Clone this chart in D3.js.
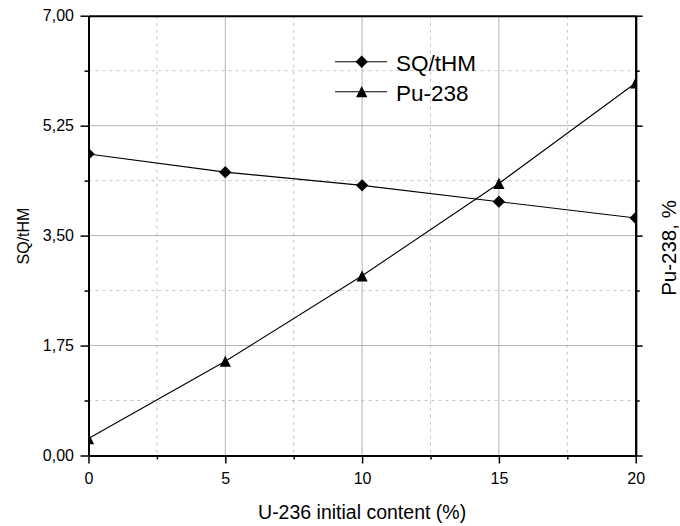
<!DOCTYPE html>
<html>
<head>
<meta charset="utf-8">
<script src="https://cdn.jsdelivr.net/npm/d3@7"></script>
<style>
  body { margin: 0; background: #fff; }
  svg { display: block; font-family: 'Liberation Sans', Arial, sans-serif; }
</style>
</head>
<body>
<main></main>
<script>
// data
const u236 = [0, 5, 10, 15, 20]
const sqPerTHM = [4.80, 4.51, 4.30, 4.04, 3.78]
const pu238 = [0.27, 1.50, 2.86, 4.33, 5.93]
const yMajorTicks = [0, 1.75, 3.5, 5.25, 7]
const yMinorTicks = [0.875, 2.625, 4.375, 6.125]
const xMajorTicks = [0, 5, 10, 15, 20]
const xMinorTicks = [2.5, 7.5, 12.5, 17.5]
const seriesNames = ['SQ/tHM', 'Pu-238']

const width = 680
const height = 526
const plot = { left: 88.5, right: 635.7, top: 15.7, bottom: 455.5 }

const commaFmt = d3.formatLocale({ decimal: ',', thousands: '.', grouping: [3], currency: ['', ''] }).format('.2f')

const x = d3.scaleLinear().domain([0, 20]).range([plot.left, plot.right])
const y = d3.scaleLinear().domain([0, 7]).range([plot.bottom, plot.top])
// right axis (Pu-238, %) shares the same scale, ticks only
const y2 = y.copy()

const svg = d3.select('main')
  .append('svg')
  .attr('width', width)
  .attr('height', height)
  .attr('viewBox', `0,0,${width},${height}`)

svg.append('defs').append('clipPath')
  .attr('id', 'plotClip')
  .append('rect')
  .attr('x', plot.left)
  .attr('y', plot.top)
  .attr('width', plot.right - plot.left)
  .attr('height', plot.bottom - plot.top)

// grid
const grid = svg.append('g').attr('class', 'grid')
grid.selectAll('.vmin')
  .data(xMinorTicks)
  .enter()
  .append('line')
  .attr('x1', d => x(d)).attr('x2', d => x(d))
  .attr('y1', plot.top).attr('y2', plot.bottom)
  .attr('stroke', '#c4c4c4')
  .attr('stroke-dasharray', '3,4')
grid.selectAll('.hmin')
  .data(yMinorTicks)
  .enter()
  .append('line')
  .attr('x1', plot.left).attr('x2', plot.right)
  .attr('y1', d => y(d)).attr('y2', d => y(d))
  .attr('stroke', '#c4c4c4')
  .attr('stroke-dasharray', '3,4')
grid.selectAll('.vmaj')
  .data(xMajorTicks.slice(1, -1))
  .enter()
  .append('line')
  .attr('x1', d => x(d)).attr('x2', d => x(d))
  .attr('y1', plot.top).attr('y2', plot.bottom)
  .attr('stroke', '#b4b4b4')
grid.selectAll('.hmaj')
  .data(yMajorTicks.slice(1, -1))
  .enter()
  .append('line')
  .attr('x1', plot.left).attr('x2', plot.right)
  .attr('y1', d => y(d)).attr('y2', d => y(d))
  .attr('stroke', '#b4b4b4')

// series
const diamond = s => `M0,${-s}L${s},0L0,${s}L${-s},0Z`
const triangle = s => `M0,${-s}L${s},${s}L${-s},${s}Z`

const series = [
  { name: seriesNames[0], values: sqPerTHM, scale: y, marker: diamond(6.2) },
  { name: seriesNames[1], values: pu238, scale: y2, marker: triangle(5.6) }
]

const dataLayer = svg.append('g').attr('clip-path', 'url(#plotClip)')
series.forEach(s => {
  const line = d3.line()
    .x((d, i) => x(u236[i]))
    .y(d => s.scale(d))
  dataLayer.append('path')
    .datum(s.values)
    .attr('fill', 'none')
    .attr('stroke', '#000')
    .attr('stroke-width', 1.1)
    .attr('d', line)
  dataLayer.selectAll(null)
    .data(s.values)
    .enter()
    .append('path')
    .attr('d', s.marker)
    .attr('fill', '#000')
    .attr('transform', (d, i) => `translate(${x(u236[i])},${s.scale(d)})`)
})

// axes
const styleAxis = g => {
  g.select('.domain').attr('stroke', '#000').attr('stroke-width', 2)
  g.selectAll('.tick line').attr('stroke', '#000').attr('stroke-width', 1.5)
  g.selectAll('.tick text')
    .attr('fill', '#000')
    .style('font-size', '16px')
}

svg.append('g')
  .attr('transform', `translate(0,${plot.bottom})`)
  .call(d3.axisBottom(x).tickValues(xMinorTicks).tickSize(4).tickSizeOuter(0).tickFormat(''))
  .call(styleAxis)
svg.append('g')
  .attr('transform', `translate(0,${plot.bottom})`)
  .call(d3.axisBottom(x).tickValues(xMajorTicks).tickSize(8).tickSizeOuter(0).tickPadding(9).tickFormat(d3.format('d')))
  .call(styleAxis)

svg.append('g')
  .attr('transform', `translate(${plot.left},0)`)
  .call(d3.axisLeft(y).tickValues(yMinorTicks).tickSize(4).tickSizeOuter(0).tickFormat(''))
  .call(styleAxis)
svg.append('g')
  .attr('transform', `translate(${plot.left},0)`)
  .call(d3.axisLeft(y).tickValues(yMajorTicks).tickSize(8).tickSizeOuter(0).tickPadding(6.5).tickFormat(commaFmt))
  .call(styleAxis)

svg.append('g')
  .attr('transform', `translate(${plot.right},0)`)
  .call(d3.axisRight(y2).tickValues(yMinorTicks).tickSize(4).tickSizeOuter(0).tickFormat(''))
  .call(styleAxis)
svg.append('g')
  .attr('transform', `translate(${plot.right},0)`)
  .call(d3.axisRight(y2).tickValues(yMajorTicks).tickSize(7).tickSizeOuter(0).tickFormat(''))
  .call(styleAxis)

svg.append('g')
  .attr('transform', `translate(0,${plot.top})`)
  .call(d3.axisTop(x).tickValues([]).tickSizeOuter(0))
  .call(styleAxis)

// axis titles
svg.append('text')
  .attr('transform', 'translate(29,236) rotate(-90)')
  .attr('text-anchor', 'middle')
  .style('font-size', '16px')
  .text('SQ/tHM')
svg.append('text')
  .attr('transform', 'translate(675.5,248) rotate(-90)')
  .attr('text-anchor', 'middle')
  .style('font-size', '20.5px')
  .text('Pu-238, %')
svg.append('text')
  .attr('x', (plot.left + plot.right) / 2)
  .attr('y', 519)
  .attr('text-anchor', 'middle')
  .style('font-size', '19.5px')
  .text('U-236 initial content (%)')

// legend
const legend = svg.append('g')
  .attr('transform', 'translate(335,61.7)')
series.forEach((s, i) => {
  const row = legend.append('g')
    .attr('transform', `translate(0,${i * 30})`)
  row.append('line')
    .attr('x1', 0).attr('x2', 52)
    .attr('stroke', '#000')
    .attr('stroke-width', 1.1)
  row.append('path')
    .attr('d', s.marker)
    .attr('transform', 'translate(26.7,0)')
  row.append('text')
    .attr('x', 61)
    .attr('y', 9.3)
    .style('font-size', '22.5px')
    .text(s.name)
})
</script>
</body>
</html>
